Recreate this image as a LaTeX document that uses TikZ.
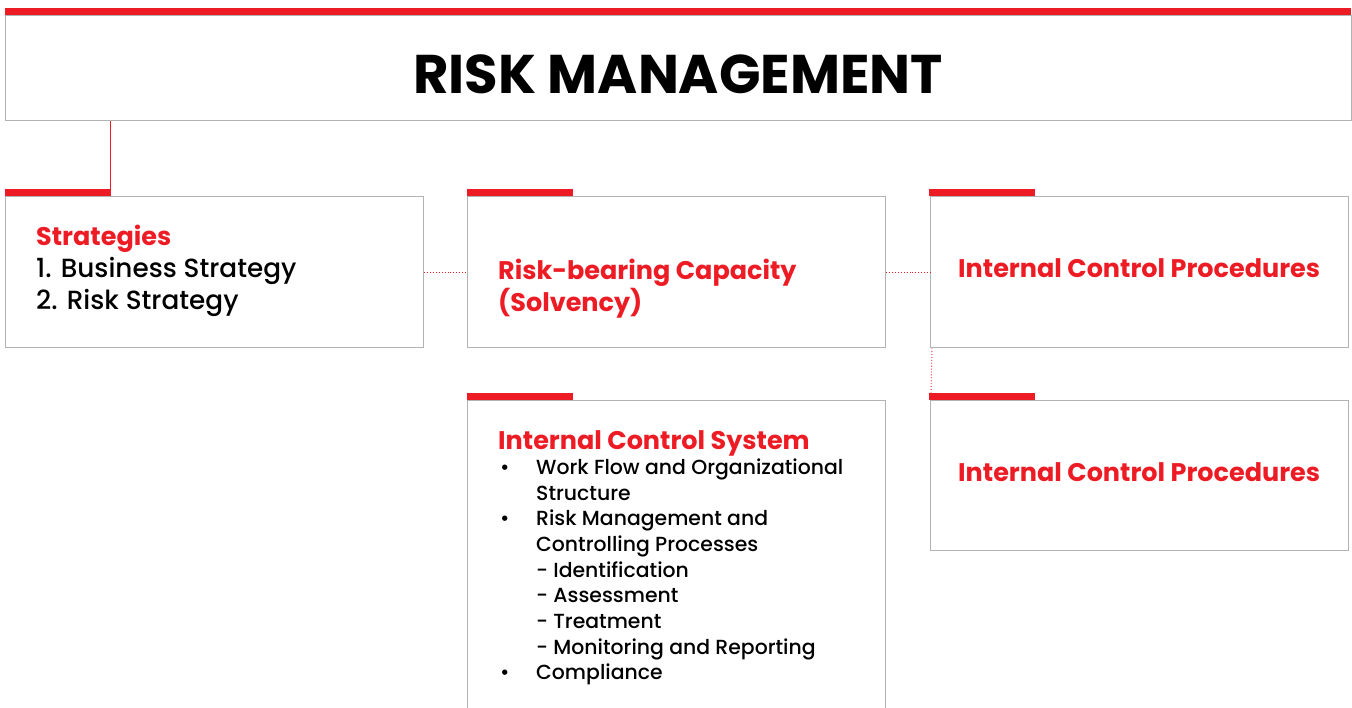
\documentclass[tikz,border=0pt]{standalone}
\usepackage{fontspec}
\setmainfont{Poppins}[UprightFont=* Medium]
\newfontfamily\headfont{Poppins}[UprightFont=* Bold]
\usetikzlibrary{calc}
\definecolor{brandred}{HTML}{ED1C24}
\definecolor{framegray}{HTML}{B3B3B3}
\tikzset{
  panel/.style={draw=framegray, line width=1.3pt, fill=white, rectangle, inner sep=0pt, anchor=north west},
  redbar/.style={fill=brandred, draw=none, rectangle, inner sep=0pt, anchor=south west, minimum width=106pt, minimum height=7pt},
  link/.style={draw=brandred, line width=0.9pt, dotted},
  heading/.style={font=\headfont\fontsize{25.5}{32}\selectfont, text=brandred, anchor=base west, inner sep=0pt},
  bodytext/.style={font=\fontsize{26.3}{32}\selectfont, text=black, anchor=base west, inner sep=0pt},
  listtext/.style={font=\fontsize{20.4}{25.6}\selectfont, text=black, anchor=base west, inner sep=0pt, align=left}
}
\begin{document}
\begin{tikzpicture}[x=1pt, y=-1pt]
\useasboundingbox (0,0) rectangle (1352,707);
\clip (0,0) rectangle (1352,707);

% title bar
\node[panel, minimum width=1346pt, minimum height=105pt] (title) at (5,15) {};
\fill[brandred] (5,8) rectangle (1351,15);
\node[font=\headfont\fontsize{54.5}{54.5}\selectfont, anchor=base, inner sep=0pt] (titletext) at (678,93) {RISK MANAGEMENT};

% first row of panels
\node[panel, minimum width=418pt, minimum height=151pt] (strat) at (5,196) {};
\node[redbar] (stratbar) at (5,196) {};
\node[panel, minimum width=418pt, minimum height=151pt] (rbc) at (467,196) {};
\node[redbar] (rbcbar) at (467,196) {};
\node[panel, minimum width=418pt, minimum height=151pt] (icpa) at (930,196) {};
\node[redbar] (icpabar) at (929,196) {};

% second row of panels
\node[panel, minimum width=418pt, minimum height=330pt] (ics) at (467,400) {};
\node[redbar] (icsbar) at (467,400) {};
\node[panel, minimum width=418pt, minimum height=150pt] (icpb) at (930,400) {};
\node[redbar] (icpbbar) at (929,400) {};

% connectors
\draw[brandred, line width=1.3pt] ([xshift=-1pt]stratbar.north east) -- ([xshift=-1pt]stratbar.north east |- title.south);
\draw[link] (strat.east) -- (rbc.west);
\draw[link] (rbc.east) -- (icpa.west);
\draw[link] ([xshift=2pt]icpa.south west) -- ([xshift=2pt]icpbbar.north west);

% panel texts
\node[heading] (sh) at (36,245) {Strategies};
\node[bodytext] (s1) at (36,277) {1. Business Strategy};
\node[bodytext] (s2) at (36,309) {2. Risk Strategy};

\node[heading] (rh1) at (498,279) {Risk-bearing Capacity};
\node[heading] (rh2) at (498,311) {(Solvency)};

\node[heading] (ih1) at (958,277) {Internal Control Procedures};
\node[heading] (ih2) at (958,481) {Internal Control Procedures};

\node[heading] (csh) at (498,449) {Internal Control System};
\foreach \y/\t [count=\i] in {474/Work Flow and Organizational, 500/Structure, 525/Risk Management and, 551/Controlling Processes, 577/- Identification, 602/- Assessment, 628/- Treatment, 654/- Monitoring and Reporting, 679/Compliance}
  \node[listtext] (cs\i) at (536,\y) {\t};
\foreach \y [count=\i] in {474,525,679}
  \node[listtext] (bul\i) at (500,\y) {\textbullet};
\end{tikzpicture}
\end{document}
